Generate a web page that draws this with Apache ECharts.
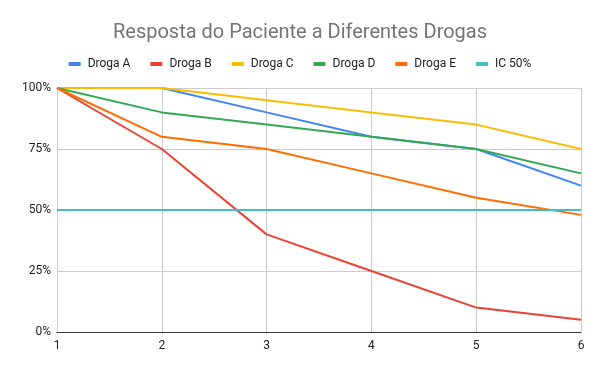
<!DOCTYPE html>
<html><head><meta charset="utf-8">
<script src="https://cdn.jsdelivr.net/npm/echarts@6/dist/echarts.min.js"></script>
<style>html,body{margin:0;padding:0;background:#fff}#c{width:600px;height:371px}</style>
</head><body><div id="c"></div>
<script>
const xValues = [1, 2, 3, 4, 5, 6];
const drogaA = [100, 100, 90, 80, 75, 60];
const drogaB = [100, 75, 40, 25, 10, 5];
const drogaC = [100, 100, 95, 90, 85, 75];
const drogaD = [100, 90, 85, 80, 75, 65];
const drogaE = [100, 80, 75, 65, 55, 48];
const ic50 = [50, 50, 50, 50, 50, 50];
const seriesNames = ['Droga A', 'Droga B', 'Droga C', 'Droga D', 'Droga E', 'IC 50%'];
const seriesData = [drogaA, drogaB, drogaC, drogaD, drogaE, ic50];
const colors = ['#4285f4', '#ea4335', '#fbbc04', '#34a853', '#ff6d01', '#46bdc6'];

const chart = echarts.init(document.getElementById('c'));
chart.setOption({
  animation: false,
  color: colors,
  title: {
    text: 'Resposta do Paciente a Diferentes Drogas',
    left: 'center', top: 18,
    textStyle: { fontFamily: 'Roboto', fontSize: 20, fontWeight: 'normal', color: '#757575' }
  },
  legend: {
    top: 53, left: 'center',
    icon: 'rect', itemWidth: 12, itemHeight: 4, itemGap: 20,
    textStyle: { fontFamily: 'Roboto', fontSize: 12, color: '#222', padding: [0, 0, 0, 2] },
    data: seriesNames
  },
  grid: { left: 57, right: 19, top: 88, bottom: 39 },
  xAxis: {
    type: 'value', min: 1, max: 6, interval: 1,
    axisLine: { show: true, lineStyle: { color: '#333' } },
    axisTick: { show: false },
    axisLabel: { fontFamily: 'Roboto', fontSize: 12, color: '#222', margin: 8 },
    splitLine: { show: true, lineStyle: { color: '#cccccc' } }
  },
  yAxis: {
    type: 'value', min: 0, max: 100, interval: 25,
    axisLine: { show: false }, axisTick: { show: false },
    axisLabel: { fontFamily: 'Roboto', fontSize: 12, color: '#222', formatter: '{value}%', margin: 6 },
    splitLine: { show: true, lineStyle: { color: '#cccccc' } }
  },
  series: seriesNames.map((n, i) => ({
    name: n, type: 'line', showSymbol: false, symbol: 'none',
    lineStyle: { width: 2 },
    data: xValues.map((x, j) => [x, seriesData[i][j]])
  }))
});
</script></body></html>
